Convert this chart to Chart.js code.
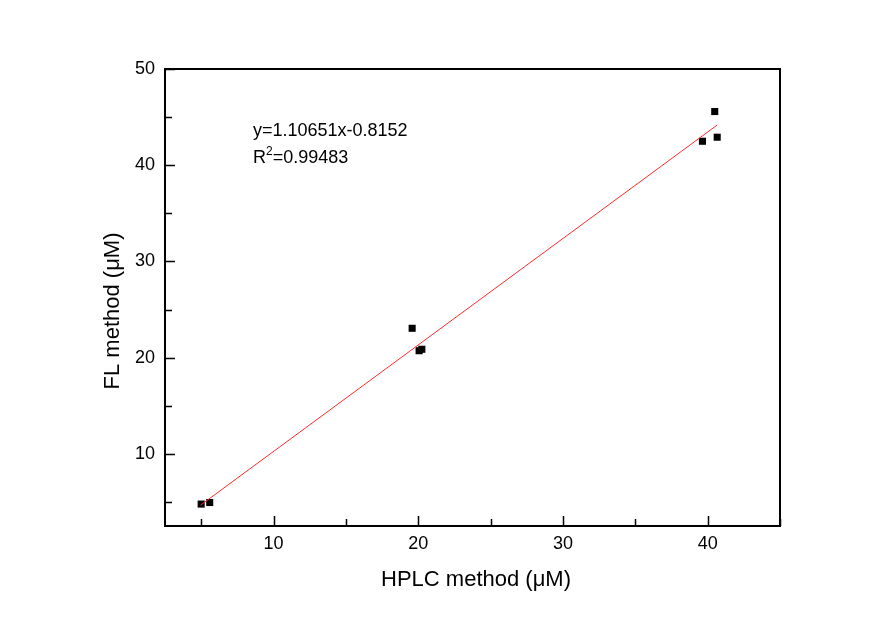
<!DOCTYPE html>
<html>
<head>
<meta charset="utf-8">
<script src="https://cdn.jsdelivr.net/npm/chart.js@4"></script>
<style>
  html, body { margin: 0; padding: 0; background: #fff; }
  #wrap { width: 891px; height: 624px; }
</style>
</head>
<body>
<div id="wrap"><canvas id="fitChart" width="891" height="624"></canvas></div>
<script>
// measured values (HPLC vs FL, µM)
const hplcValues = [5.0, 5.59, 19.58, 20.06, 20.25, 39.64, 40.49, 40.66];
const flValues = [4.78, 4.94, 23.05, 20.72, 20.87, 42.49, 45.58, 42.91];

// linear fit endpoints as drawn
const fitX = [4.95, 40.66];
const fitY = [4.66, 44.18];
const fitLabel = 'y=1.10651x-0.8152';
const r2Label = '0.99483';
const xTitle = 'HPLC method (μM)';
const yTitle = 'FL method (μM)';

// tick positions
const xTicks = [5, 10, 15, 20, 25, 30, 35, 40, 45];
const yTicks = [5, 10, 15, 20, 25, 30, 35, 40, 45, 50];

const FONT = '"Liberation Sans", Arial, sans-serif';

// inward tick marks, frame, axis titles and the fit text
const framePlugin = {
    id: 'frame',
    afterDraw(chart) {
        const ctx = chart.ctx;
        const a = chart.chartArea;
        const xs = chart.scales.x, ys = chart.scales.y;
        ctx.save();
        ctx.strokeStyle = '#000';
        ctx.lineWidth = 1.5;
        ctx.beginPath();
        xTicks.forEach(v => {
            const px = Math.round(xs.getPixelForValue(v)) + 0.5;
            const len = v % 10 === 0 ? 10 : 7;
            ctx.moveTo(px, a.bottom);
            ctx.lineTo(px, a.bottom - len);
        });
        yTicks.forEach(v => {
            const py = Math.round(ys.getPixelForValue(v)) + 0.5;
            const len = v % 10 === 0 ? 10 : 7;
            ctx.moveTo(a.left, py);
            ctx.lineTo(a.left + len, py);
        });
        ctx.stroke();
        ctx.lineWidth = 2;
        ctx.strokeRect(a.left, a.top, a.right - a.left, a.bottom - a.top);

        ctx.fillStyle = '#000';
        // axis titles
        ctx.font = '22px ' + FONT;
        ctx.textAlign = 'center';
        ctx.textBaseline = 'middle';
        ctx.fillText(xTitle, 476, 580);
        ctx.save();
        ctx.translate(113, 311);
        ctx.rotate(-Math.PI / 2);
        ctx.fillText(yTitle, 0, 0);
        ctx.restore();

        // equation text
        ctx.font = '18px ' + FONT;
        ctx.textBaseline = 'alphabetic';
        ctx.textAlign = 'left';
        ctx.fillText(fitLabel, 253, 136);
        ctx.fillText('R', 253, 163);
        const rw = ctx.measureText('R').width;
        ctx.font = '12px ' + FONT;
        ctx.fillText('2', 253 + rw, 155);
        const sw = ctx.measureText('2').width;
        ctx.font = '18px ' + FONT;
        ctx.fillText('=' + r2Label, 253 + rw + sw, 163);
        ctx.restore();
    }
};

const ctx = document.getElementById('fitChart').getContext('2d');
new Chart(ctx, {
    type: 'scatter',
    data: {
        datasets: [
            {
                label: 'fit',
                type: 'line',
                data: fitX.map((x, i) => ({ x: x, y: fitY[i] })),
                borderColor: '#ff2a2a',
                borderWidth: 1,
                pointRadius: 0,
                fill: false
            },
            {
                label: 'data',
                data: hplcValues.map((x, i) => ({ x: x, y: flValues[i] })),
                pointStyle: 'rect',
                pointRadius: 5,
                pointBackgroundColor: '#000',
                pointBorderColor: '#000',
                pointBorderWidth: 0
            }
        ]
    },
    options: {
        responsive: false,
        animation: false,
        layout: { padding: { left: 0, top: 69, right: 111, bottom: 0 } },
        plugins: {
            legend: { display: false },
            tooltip: { enabled: false }
        },
        scales: {
            x: {
                type: 'linear',
                min: 2.5,
                max: 45,
                afterBuildTicks: s => { s.ticks = xTicks.map(v => ({ value: v })); },
                afterFit: s => { s.height = 98; },
                grid: { display: false, drawTicks: false },
                border: { display: false },
                ticks: {
                    padding: 7,
                    color: '#000',
                    font: { family: FONT, size: 18 },
                    maxRotation: 0,
                    autoSkip: false,
                    callback: v => (v % 10 === 0 && v <= 40) ? String(v) : ''
                }
            },
            y: {
                type: 'linear',
                min: 2.5,
                max: 50,
                afterBuildTicks: s => { s.ticks = yTicks.map(v => ({ value: v })); },
                afterFit: s => { s.width = 165; },
                grid: { display: false, drawTicks: false },
                border: { display: false },
                ticks: {
                    padding: 10,
                    color: '#000',
                    font: { family: FONT, size: 18 },
                    autoSkip: false,
                    callback: v => v % 10 === 0 ? String(v) : ''
                }
            }
        }
    },
    plugins: [framePlugin]
});
</script>
</body>
</html>
